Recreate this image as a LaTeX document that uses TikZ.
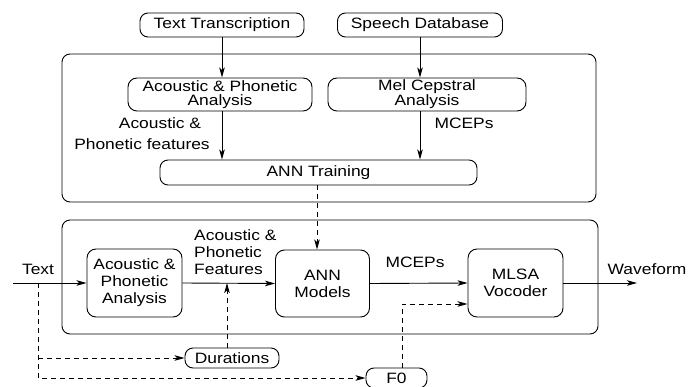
\documentclass[tikz,border=0pt]{standalone}
\usepackage{fontspec}
\setmainfont{Liberation Sans}[FakeStretch=1.16]
\usetikzlibrary{arrows.meta}
\tikzset{
  x=1pt, y=-1pt,
  every node/.style={font=\fontsize{15}{17}\selectfont, inner sep=0pt},
  box/.style={draw, line width=0.9pt, rounded corners=9pt, align=center},
  pill/.style={draw, line width=0.9pt, rounded corners=8pt, align=center},
  frame/.style={draw, line width=0.9pt, rounded corners=8pt},
  arr/.style={line width=0.9pt, -{Stealth[length=10pt,width=5.5pt,inset=2.5pt]}},
  dsh/.style={arr, dash pattern=on 5pt off 4pt},
  lbl/.style={align=center}
}
\begin{document}
\begin{tikzpicture}
\useasboundingbox (0,0) rectangle (698,387);

% training stage
\draw[frame] (62,54) rectangle (596,202);
\node[pill, minimum width=164pt, minimum height=24pt] (tt) at (222,25) {Text Transcription};
\node[pill, minimum width=165pt, minimum height=24pt] (sd) at (420,25) {Speech Database};
\node[box, minimum width=184pt, minimum height=33pt, font=\fontsize{15}{14}\selectfont] (apa1) at (220,94.5) {Acoustic \& Phonetic\\Analysis};
\node[box, minimum width=198pt, minimum height=33pt, font=\fontsize{15}{12}\selectfont] (mel) at (427,94.5) {Mel Cepstral\\Analysis};
\node[pill, minimum width=317pt, minimum height=25pt] (annt) at (318.5,172.5) {ANN Training};

\draw[arr] (tt.south) -- (tt.south |- apa1.north);
\draw[arr] (tt.south |- apa1.south) -- (tt.south |- annt.north);
\draw[arr] (sd.south) -- (sd.south |- mel.north);
\draw[arr] (sd.south |- mel.south) -- (sd.south |- annt.north);

\node[lbl] (l1) at (160,123) {Acoustic \&};
\node[lbl] (l2) at (142,144) {Phonetic features};
\node[lbl] (l3) at (464,123) {MCEPs};

% synthesis stage
\draw[frame] (62,220) rectangle (598,334);
\node[box, minimum width=95pt, minimum height=68pt] (apa2) at (134.5,283) {Acoustic \&\\Phonetic\\Analysis};
\node[box, minimum width=94pt, minimum height=67pt] (annm) at (322.5,283.5) {ANN\\Models};
\node[box, minimum width=95pt, minimum height=68pt] (mlsa) at (515.5,283) {MLSA\\Vocoder};
\node[pill, minimum width=94pt, minimum height=20pt] (dur) at (232,358) {Durations};
\node[pill, minimum width=61pt, minimum height=20pt] (f0) at (396.5,378) {F0};

\coordinate (tin) at (13,283);
\coordinate (split) at (38,283);
\coordinate (wave) at (637,283);
\coordinate (durup) at (227,283);
\coordinate (f0turn) at (402,304);
\coordinate (annin) at (317,202);

\draw[dsh] (annt.south -| annin) -- (annm.north -| annin);

\draw[arr] (tin) -- (apa2.west);
\draw[arr] (apa2.east) -- (annm.west);
\draw[arr] (annm.east) -- (mlsa.west);
\draw[arr] (mlsa.east) -- (wave);

\draw[dsh] (split) -- (split |- f0) -- (f0.west);
\draw[dsh] (split |- dur) -- (dur.west);
\draw[dsh] (dur.north -| durup) -- (durup);
\draw[dsh] (f0.north -| f0turn) -- (f0turn) -- (mlsa.west |- f0turn);

\node[lbl] (ltext) at (38,269) {Text};
\node[align=left, anchor=west] (lfeat) at (194,252) {Acoustic \&\\Phonetic\\Features};
\node[lbl] (lmc) at (415,262) {MCEPs};
\node[lbl] (lwave) at (647,269) {Waveform};
\end{tikzpicture}
\end{document}
